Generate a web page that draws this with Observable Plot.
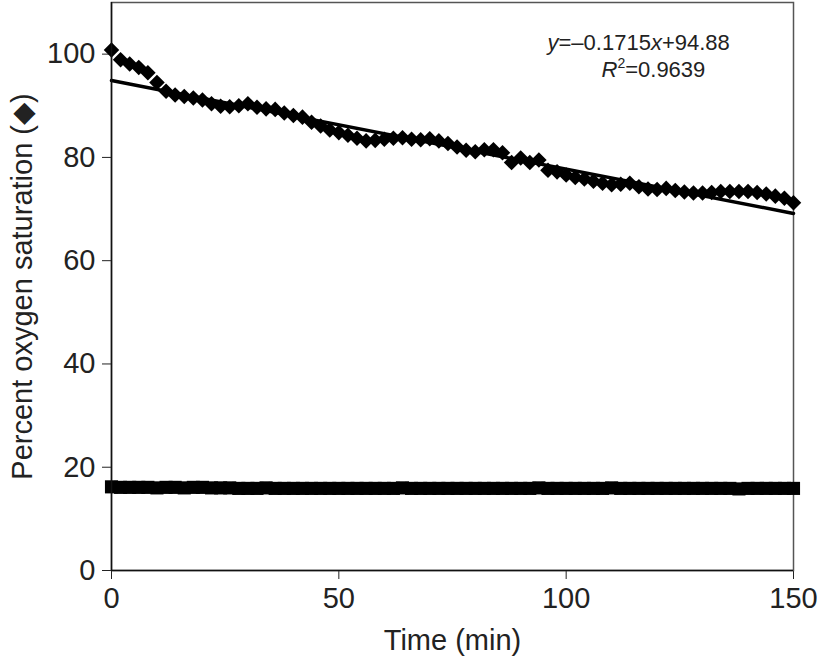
<!DOCTYPE html>
<html><head><meta charset="utf-8">
<script src="https://cdn.jsdelivr.net/npm/d3@7"></script>
<script src="https://cdn.jsdelivr.net/npm/@observablehq/plot@0.6"></script>
<style>body{margin:0;background:#fff;}</style>
</head><body><div id="chart"></div>
<script>
// sample times (min)
const timeMin = [0,2,4,6,8,10,12,14,16,18,20,22,24,26,28,30,32,34,36,38,40,42,44,46,48,50,52,54,56,58,60,62,64,66,68,70,72,74,76,78,80,82,84,86,88,90,92,94,96,98,100,102,104,106,108,110,112,114,116,118,120,122,124,126,128,130,132,134,136,138,140,142,144,146,148,150];
// percent oxygen saturation (diamonds)
const oxygenSat = [100.8,98.9,98.1,97.4,96.4,94.5,92.8,92.1,91.8,91.5,
 91.1,90.4,89.9,89.8,90.0,90.4,89.7,89.4,89.3,88.6,
 88.1,87.8,86.8,86.1,85.3,84.8,84.3,83.7,83.2,83.3,
 83.5,83.7,83.8,83.5,83.4,83.6,83.2,82.7,82.0,81.4,
 81.1,81.5,81.5,80.9,79.0,79.9,79.0,79.5,77.5,77.2,
 76.6,76.1,75.8,75.4,75.0,74.7,74.8,75.0,74.3,73.9,
 73.8,74.0,73.6,73.3,73.1,73.1,73.2,73.4,73.4,73.4,
 73.4,73.2,72.9,72.5,72.1,71.2];
// second series (squares)
const squareSeries = [16.2,16.1,16.1,16.1,16.1,16.0,16.1,16.1,16.0,16.1,
 16.1,16.0,16.0,16.0,15.9,15.9,15.9,16.0,15.9,15.9,
 15.9,15.9,15.9,15.9,15.9,15.9,15.9,15.9,15.9,15.9,
 15.9,15.9,16.0,15.9,15.9,15.9,15.9,15.9,15.9,15.9,
 15.9,15.9,15.9,15.9,15.9,15.9,15.9,16.0,15.9,15.9,
 15.9,15.9,15.9,15.9,15.9,16.0,15.9,15.9,15.9,15.9,
 15.9,15.9,15.9,15.9,15.9,15.9,15.9,15.9,15.9,15.8,
 15.9,15.9,15.9,15.9,15.9,15.9];
// linear trend
const trendSlope = -0.1715;
const trendIntercept = 94.88;
const trendRange = [0, 150];
// ticks & labels
const xTicks = [0,50,100,150];
const yTicks = [0,20,40,60,80,100];
const xLabel = "Time (min)";
const yLabel = "Percent oxygen saturation (\u25C6)";
const eq1Parts = ["y","=\u20130.1715","x","+94.88"];
const eq1Italic = [true,false,true,false];
const eq2Parts = ["R","2","=0.9639"];

const oxy = timeMin.map((t,i) => ({t, v: oxygenSat[i]}));
const sq = timeMin.map((t,i) => ({t, v: squareSeries[i]}));
const trend = trendRange.map(t => ({t, v: trendSlope*t + trendIntercept}));
const eq1Text = eq1Parts.join("");
const eq2Text = eq2Parts.join("");

const svg = Plot.plot({
  width: 821, height: 667,
  marginLeft: 111, marginRight: 28, marginTop: 2, marginBottom: 97,
  style: {fontFamily: "'Liberation Sans', Arial, sans-serif", fontSize: "29px", color: "#222", background: "#fff", overflow: "visible"},
  x: {domain: [0,150], ticks: xTicks, tickSize: 9, tickPadding: 8, label: null},
  y: {domain: [0,110], ticks: yTicks, tickSize: 9, tickPadding: 7, label: null},
  marks: [
    Plot.frame({stroke: "#555", strokeWidth: 1.5}),
    Plot.dot(sq, {x: "t", y: "v", symbol: "square", r: 7.4, fill: "#000", stroke: "none"}),
    Plot.dot(oxy, {x: "t", y: "v", symbol: "diamond2", r: 7, fill: "#000", stroke: "none"}),
    Plot.line(trend, {x: "t", y: "v", stroke: "#000", strokeWidth: 3.5}),
    Plot.ruleX([0], {stroke: "#111", strokeWidth: 1.5}),
    Plot.ruleY([0], {stroke: "#111", strokeWidth: 1.5}),
    Plot.text([xLabel], {text: d => d, frameAnchor: "bottom", dy: 70, lineAnchor: "middle", fontSize: 29, fill: "#222"}),
    Plot.text([yLabel], {text: d => d, frameAnchor: "left", dx: -89, textAnchor: "middle", lineAnchor: "middle", rotate: -90, fontSize: 29, fill: "#222"}),
    Plot.text([eq1Text], {text: d => d, frameAnchor: "top-left", dx: 436, dy: 40, textAnchor: "start", lineAnchor: "middle", fontSize: 22, fill: "#222"}),
    Plot.text([eq2Text], {text: d => d, frameAnchor: "top-left", dx: 490, dy: 67, textAnchor: "start", lineAnchor: "middle", fontSize: 22, fill: "#222"})
  ]
});
document.getElementById("chart").appendChild(svg);

// rich text for the equation
d3.select(svg).selectAll("text").each(function() {
  const el = d3.select(this);
  const txt = this.textContent;
  if (txt === eq1Text) {
    el.text(null);
    eq1Parts.forEach((p,i) => el.append("tspan").attr("font-style", eq1Italic[i] ? "italic" : "normal").text(p));
  } else if (txt === eq2Text) {
    el.text(null);
    el.append("tspan").attr("font-style","italic").text(eq2Parts[0]);
    el.append("tspan").attr("font-size","14px").attr("dy","-0.6em").text(eq2Parts[1]);
    el.append("tspan").attr("font-size","22px").attr("dy","8.4").text(eq2Parts[2]);
  }
});
</script>
</body></html>
